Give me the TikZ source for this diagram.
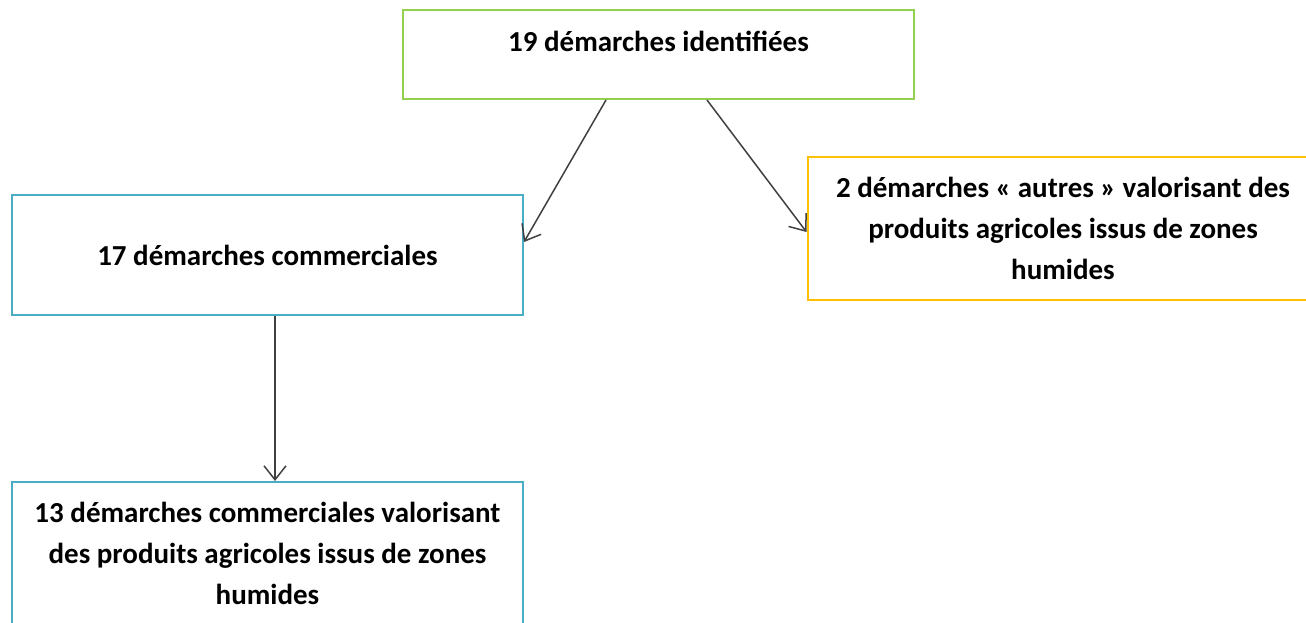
\documentclass[tikz,border=0pt]{standalone}
\usepackage{fontspec}
\setmainfont{Carlito}
\usetikzlibrary{arrows.meta}

\definecolor{vert}{HTML}{92D050}
\definecolor{bleu}{HTML}{4BACC6}
\definecolor{jaune}{HTML}{FFC000}

\tikzset{
  box/.style={draw=#1, line width=2pt, minimum width=511pt, align=center,
    inner sep=0pt, font=\fontsize{29}{41}\selectfont\bfseries},
  fleche/.style={draw=black!75, line width=1.5pt,
    -{Straight Barb[length=14pt,width=22pt,line width=1.5pt]}}
}

\begin{document}
\begin{tikzpicture}[x=1pt, y=-1pt]
  % page frame
  \fill[white] (0,0) rectangle (1306,623);
  \useasboundingbox (0,0) rectangle (1306,623);

  % Boxes
  \node[box=vert, minimum height=89pt, text height=21pt, text depth=26pt] (top) at (658.5,54.5) {19 démarches identifiées};
  \node[box=bleu, minimum height=120pt] (commerciales) at (267.5,255) {17 démarches commerciales};
  \node[box=jaune, minimum height=143pt] (autres) at (1063,228.5)
    {2 démarches « autres » valorisant des\\produits agricoles issus de zones\\humides};
  \node[box=bleu, minimum height=142pt] (valorisant) at (267.5,553)
    {13 démarches commerciales valorisant\\des produits agricoles issus de zones\\humides};

  % Arrows
  \draw[fleche] ([xshift=-52.5pt]top.south) -- ([yshift=13pt]commerciales.east);
  \draw[fleche] ([xshift=48.5pt]top.south) -- ([yshift=-3.5pt]autres.west);
  \draw[fleche] ([xshift=7.5pt]commerciales.south) -- ([xshift=7.5pt]valorisant.north);

\end{tikzpicture}
\end{document}
